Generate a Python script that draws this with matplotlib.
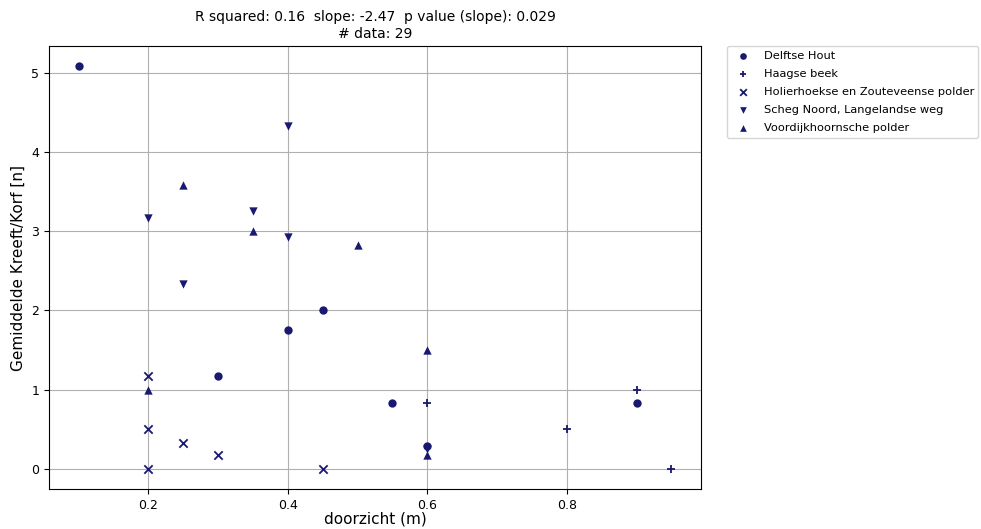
import matplotlib
matplotlib.use("Agg")
import matplotlib.pyplot as plt

# data per gebied: doorzicht (m) en gemiddelde kreeft per korf
delft_x = [0.1, 0.3, 0.4, 0.45, 0.55, 0.6, 0.9]
delft_y = [5.08, 1.17, 1.75, 2.0, 0.83, 0.29, 0.83]

haag_x = [0.6, 0.8, 0.9, 0.95]
haag_y = [0.83, 0.5, 1.0, 0.0]

holier_x = [0.2, 0.2, 0.2, 0.25, 0.3, 0.45]
holier_y = [1.17, 0.5, 0.0, 0.33, 0.17, 0.0]

scheg_x = [0.2, 0.25, 0.35, 0.4, 0.4, 0.6]
scheg_y = [3.17, 2.33, 3.25, 4.33, 2.92, 0.25]

voord_x = [0.2, 0.25, 0.35, 0.5, 0.6, 0.6]
voord_y = [1.0, 3.58, 3.0, 2.83, 1.5, 0.17]

labels = ["Delftse Hout", "Haagse beek", "Holierhoekse en Zouteveense polder",
          "Scheg Noord, Langelandse weg", "Voordijkhoornsche polder"]
markers = ["o", "+", "x", "v", "^"]
col = "midnightblue"

fig = plt.figure(figsize=(9.81, 5.29), dpi=100)
ax = fig.add_axes([0.05, 0.0756, 0.6646, 0.8374])

series = [(delft_x, delft_y), (haag_x, haag_y), (holier_x, holier_y),
          (scheg_x, scheg_y), (voord_x, voord_y)]
for (xs, ys), lab, m in zip(series, labels, markers):
    lw = 1.3 if m in "+x" else 0
    ax.scatter(xs, ys, marker=m, color=col, label=lab, s=36, linewidths=lw, zorder=3)

ax.grid(True, color="#b0b0b0", linewidth=0.8)
ax.set_xticks([0.2, 0.4, 0.6, 0.8])
ax.set_yticks([0, 1, 2, 3, 4, 5])
ax.set_xlabel("doorzicht (m)", fontsize=11, labelpad=0)
ax.set_ylabel("Gemiddelde Kreeft/Korf [n]", fontsize=11)
ax.set_title("R squared: 0.16  slope: -2.47  p value (slope): 0.029\n# data: 29", fontsize=10)
ax.tick_params(labelsize=9)

ax.legend(loc="upper left", bbox_to_anchor=(1.04, 1.0), borderaxespad=0,
          fontsize=8.2, markerscale=0.8, labelspacing=0.72, frameon=True)

fig.savefig("out.png", dpi=100)
